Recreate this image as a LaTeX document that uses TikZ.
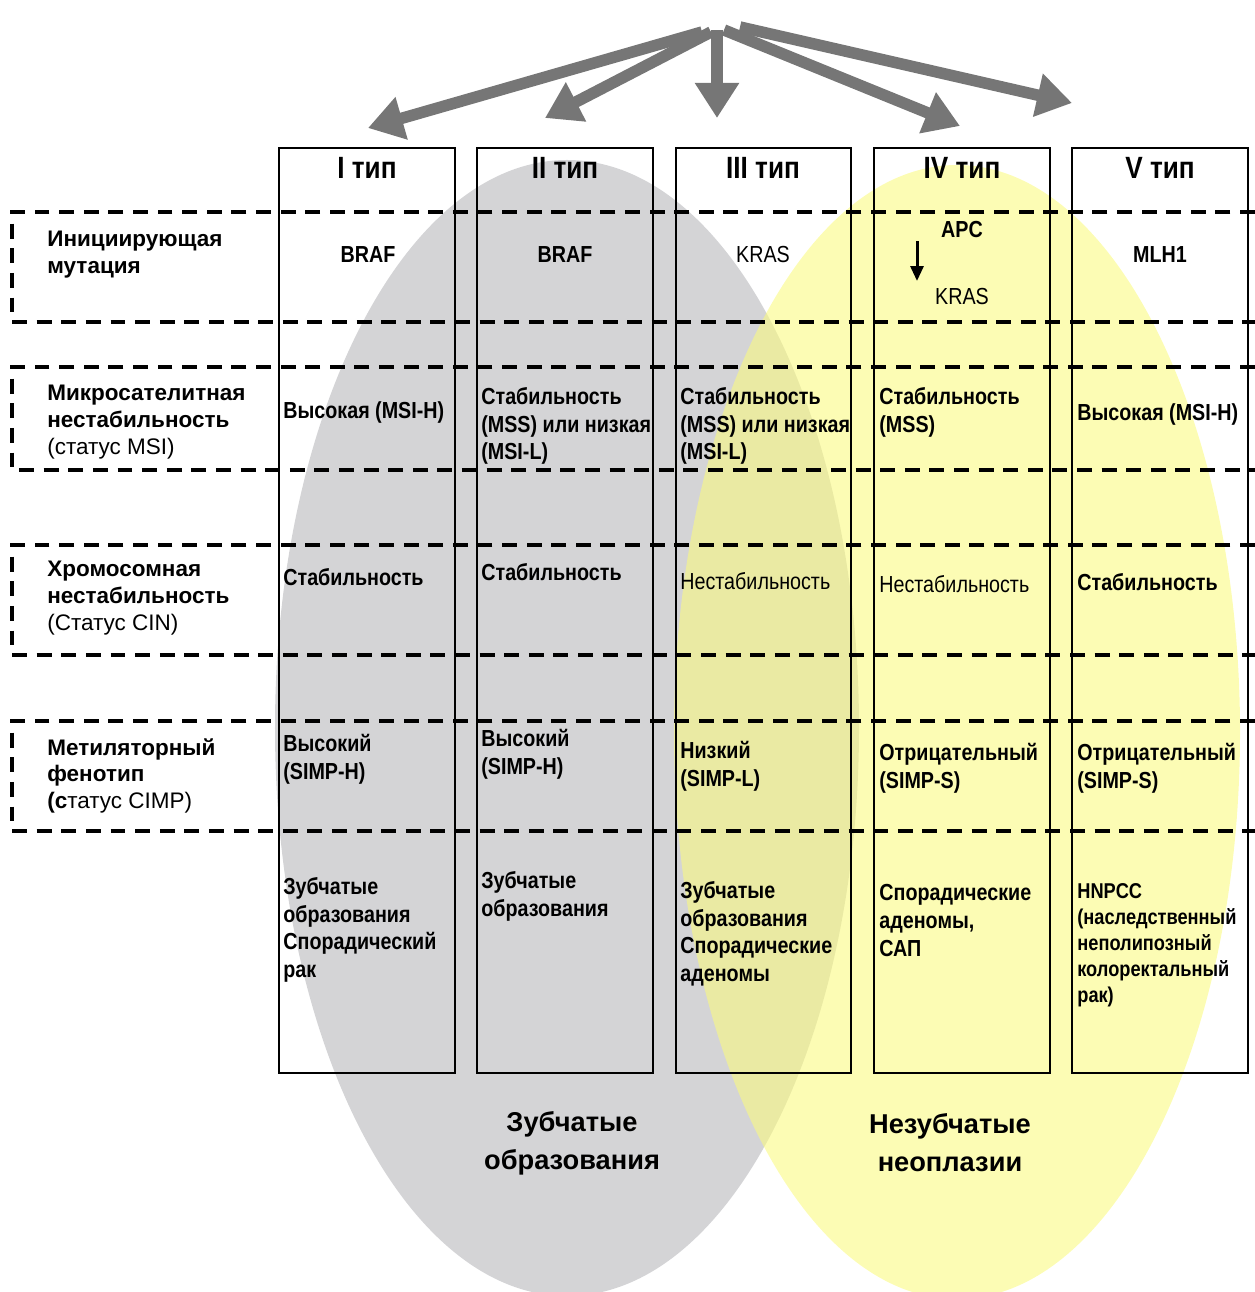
\documentclass[tikz,border=0pt]{standalone}
\usepackage{fontspec}
\setmainfont{Liberation Sans}
\newfontfamily\narrowfont[FakeStretch=0.85]{Liberation Sans}
\usetikzlibrary{arrows.meta}

\definecolor{ovalgray}{RGB}{212,212,214}
\definecolor{ovalyellow}{RGB}{250,250,130}
\definecolor{arrowgray}{RGB}{118,118,118}

\tikzset{
  dashrow/.style={dash pattern=on 8.5pt off 5.5pt, line width=2pt},
  colbox/.style={line width=0.9pt},
  typehead/.style={font=\narrowfont\bfseries\fontsize{17.5}{20}\selectfont},
  rowlabel/.style={anchor=north west, align=left, inner sep=0pt,
    font=\bfseries\fontsize{12.8}{15.2}\selectfont},
  cell/.style={anchor=north west, align=left, inner sep=0pt,
    font=\narrowfont\bfseries\fontsize{13.2}{15.8}\selectfont},
  cellthin/.style={cell, font=\narrowfont\fontsize{13.2}{15.8}\selectfont},
  gene/.style={inner sep=0pt, font=\narrowfont\bfseries\fontsize{13.2}{15.8}\selectfont},
  genethin/.style={gene, font=\narrowfont\fontsize{13.2}{15.8}\selectfont},
  group/.style={align=center, inner sep=0pt, font=\bfseries\fontsize{15.5}{21.5}\selectfont},
  bigarrow/.style={-{Triangle[length=7mm,width=8.4mm]}, line width=2.3mm, arrowgray},
}

\begin{document}
\begin{tikzpicture}[x=0.2mm,y=-0.2mm]
    \useasboundingbox (0,0) rectangle (1255,1292);

    % serrated / non-serrated ovals
    \fill[ovalgray] (567,728) ellipse [x radius=58.4mm, y radius=113.6mm];
    \fill[ovalyellow, opacity=0.6] (957,732) ellipse [x radius=56.6mm, y radius=113.4mm];

    % dashed row frames
    \draw[dashrow] (1255,212) -- (12,212) -- (12,322) -- (1255,322);
    \draw[dashrow] (1255,367) -- (12,367) -- (12,470) -- (1255,470);
    \draw[dashrow] (1255,545) -- (12,545) -- (12,655) -- (1255,655);
    \draw[dashrow] (1255,721) -- (12,721) -- (12,831) -- (1255,831);

    % type columns
    \draw[colbox] (279,148) rectangle (455,1073);
    \draw[colbox] (477,148) rectangle (653,1073);
    \draw[colbox] (676,148) rectangle (851,1073);
    \draw[colbox] (874,148) rectangle (1050,1073);
    \draw[colbox] (1072,148) rectangle (1248,1073);

    % arrows from the top
    \coordinate (src1) at (702,32);
    \coordinate (src2) at (711,32);
    \coordinate (src3) at (717,30);
    \coordinate (src4) at (724,30);
    \coordinate (src5) at (740,27);
    \coordinate (tip1) at (368,128);
    \coordinate (tip2) at (545,118);
    \coordinate (tip3) at (717,118);
    \coordinate (tip4) at (960,126);
    \coordinate (tip5) at (1072,103);
    \draw[bigarrow] (src1) -- (tip1);
    \draw[bigarrow] (src2) -- (tip2);
    \draw[bigarrow] (src3) -- (tip3);
    \draw[bigarrow] (src4) -- (tip4);
    \draw[bigarrow] (src5) -- (tip5);

    % headers
    \node[typehead] (type1) at (367,168) {I тип};
    \node[typehead] (type2) at (565,168) {II тип};
    \node[typehead] (type3) at (763,168) {III тип};
    \node[typehead] (type4) at (962,168) {IV тип};
    \node[typehead] (type5) at (1160,168) {V тип};

    % row labels
    \node[rowlabel] (initlab) at (47,231) {Инициирующая\\мутация};
    \node[rowlabel] (msilab) at (47,385) {Микросателитная\\нестабильность\\{\mdseries (статус MSI)}};
    \node[rowlabel] (cinlab) at (47,561) {Хромосомная\\нестабильность\\{\mdseries (Статус CIN)}};
    \node[rowlabel] (cimplab) at (47,738) {Метиляторный\\фенотип\\(с{\mdseries татус CIMP)}};

    % initiating mutation
    \node[gene] (mut1) at (368,255) {BRAF};
    \node[gene] (mut2) at (565,255) {BRAF};
    \node[genethin] (mut3) at (763,255) {KRAS};
    \node[gene] (apc) at (962,230) {APC};
    \node[genethin] (kras4) at (962,297) {KRAS};
    \node[gene] (mut5) at (1160,255) {MLH1};
    \coordinate (apctop) at (917,241);
    \coordinate (apcbot) at (917,281);
    \draw[-{Triangle[length=3mm,width=2.6mm]}, line width=0.6mm] (apctop) -- (apcbot);

    % MSI status
    \node[cell] (msi1) at (283,401) {Высокая (MSI-H)};
    \node[cell] (msi2) at (481,387) {Стабильность\\(MSS) или низкая\\(MSI-L)};
    \node[cell] (msi3) at (680,387) {Стабильность\\(MSS) или низкая\\(MSI-L)};
    \node[cell] (msi4) at (879,387) {Стабильность\\(MSS)};
    \node[cell] (msi5) at (1077,403) {Высокая (MSI-H)};

    % CIN status
    \node[cell] (cin1) at (283,568) {Стабильность};
    \node[cell] (cin2) at (481,563) {Стабильность};
    \node[cellthin] (cin3) at (680,572) {Нестабильность};
    \node[cellthin] (cin4) at (879,575) {Нестабильность};
    \node[cell] (cin5) at (1077,573) {Стабильность};

    % CIMP status
    \node[cell] (cimp1) at (283,734) {Высокий\\(SIMP-H)};
    \node[cell] (cimp2) at (481,729) {Высокий\\(SIMP-H)};
    \node[cell] (cimp3) at (680,741) {Низкий\\(SIMP-L)};
    \node[cell] (cimp4) at (879,743) {Отрицательный\\(SIMP-S)};
    \node[cell] (cimp5) at (1077,743) {Отрицательный\\(SIMP-S)};

    % lesions
    \node[cell] (les1) at (283,877) {Зубчатые\\образования\\Спорадический\\рак};
    \node[cell] (les2) at (481,871) {Зубчатые\\образования};
    \node[cell] (les3) at (680,881) {Зубчатые\\образования\\Спорадические\\аденомы};
    \node[cell] (les4) at (879,884) {Спорадические\\аденомы,\\САП};
    \node[cell, font=\narrowfont\bfseries\fontsize{12.2}{14.8}\selectfont] (les5) at (1077,883)
      {HNPCC\\(наследственный\\неполипозный\\колоректальный\\рак)};

    % oval captions
    \node[group] (serrated) at (572,1143) {Зубчатые\\образования};
    \node[group] (nonserrated) at (950,1143) {Незубчатые\\неоплазии};
\end{tikzpicture}
\end{document}
